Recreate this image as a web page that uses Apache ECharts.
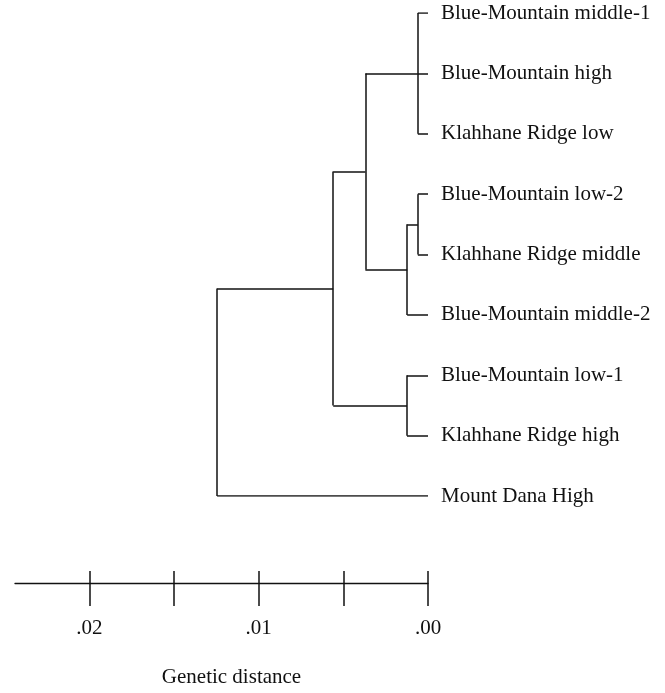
<!DOCTYPE html>
<html>
<head>
<meta charset="utf-8">
<script src="https://cdn.jsdelivr.net/npm/echarts@6/dist/echarts.min.js"></script>
<style>
html,body{margin:0;padding:0;background:#fff;}
#chart{width:665px;height:693px;}
</style>
</head>
<body>
<div id="chart"></div>
<script>
// Leaves, top to bottom
var leaves = [
  'Blue-Mountain middle-1',
  'Blue-Mountain high',
  'Klahhane Ridge low',
  'Blue-Mountain low-2',
  'Klahhane Ridge middle',
  'Blue-Mountain middle-2',
  'Blue-Mountain low-1',
  'Klahhane Ridge high',
  'Mount Dana High'
];
// Internal nodes (ids continue after the leaves: 9, 10, ...)
var mergeChildren = [
  [0, 1, 2],   // 9
  [3, 4],      // 10
  [10, 5],     // 11
  [9, 11],     // 12
  [6, 7],      // 13
  [12, 13],    // 14
  [14, 8]      // 15 root
];
// Genetic distance at which each merge happens
var mergeDistance = [0.0006, 0.0006, 0.00123, 0.0037, 0.00124, 0.0056, 0.01246];
// Scale bar
var scaleTicks = [0, 0.005, 0.01, 0.015, 0.02];
var scaleLabels = [0, 0.01, 0.02];
var axisName = 'Genetic distance';

// Build node positions (distance, row)
var nodeDist = [], nodeRow = [];
leaves.forEach(function (n, i) { nodeDist.push(0); nodeRow.push(i); });
mergeChildren.forEach(function (ch, k) {
  var id = leaves.length + k;
  nodeDist[id] = mergeDistance[k];
  var rows = ch.map(function (c) { return nodeRow[c]; });
  var s = 0; rows.forEach(function (r) { s += r; });
  nodeRow[id] = s / rows.length;
});

var segs = [];
mergeChildren.forEach(function (ch, k) {
  var id = leaves.length + k;
  var d = nodeDist[id];
  var rows = ch.map(function (c) { return nodeRow[c]; });
  var rmin = Math.min.apply(null, rows), rmax = Math.max.apply(null, rows);
  segs.push({ coords: [[d, rmin], [d, rmax]] });
  ch.forEach(function (c) {
    segs.push({ coords: [[nodeDist[c], nodeRow[c]], [d, nodeRow[c]]] });
  });
});

var FONT = 'Liberation Serif';
var X_MAX = 0.0244;

var chart = echarts.init(document.getElementById('chart'), null, { renderer: 'canvas' });
chart.setOption({
  animation: false,
  backgroundColor: '#fff',
  grid: { left: 15, right: 237, top: 13, bottom: 195, containLabel: false },
  xAxis: [
    {
      type: 'value', min: 0, max: X_MAX, inverse: true,
      position: 'bottom', offset: 87,
      axisLine: { show: true, onZero: false, lineStyle: { color: '#111', width: 1.3 } },
      axisTick: { show: true, length: 23, inside: false, customValues: scaleTicks, lineStyle: { color: '#111', width: 1.5 } },
      axisLabel: {
        show: true, customValues: scaleLabels, margin: 35,
        fontFamily: FONT, fontSize: 21, color: '#111',
        formatter: function (v) { return '.' + v.toFixed(2).split('.')[1]; }
      },
      splitLine: { show: false },
      name: axisName, nameLocation: 'middle', nameGap: 84,
      nameTextStyle: { fontFamily: FONT, fontSize: 21, color: '#111', padding: [0, 0, 0, 20] }
    },
    {
      type: 'value', min: 0, max: X_MAX, inverse: true,
      position: 'bottom', offset: 87,
      axisLine: { show: false, onZero: false },
      axisTick: { show: true, length: 12, inside: true, customValues: scaleTicks, lineStyle: { color: '#111', width: 1.5 } },
      axisLabel: { show: false },
      splitLine: { show: false }
    }
  ],
  yAxis: {
    type: 'value', min: 0, max: leaves.length - 1, interval: 1, inverse: true,
    position: 'right',
    axisLine: { show: false }, axisTick: { show: false }, splitLine: { show: false },
    axisLabel: {
      margin: 13, fontFamily: FONT, fontSize: 21, color: '#111',
      formatter: function (v) { return leaves[Math.round(v)] || ''; }
    }
  },
  series: [{
    type: 'lines',
    coordinateSystem: 'cartesian2d',
    xAxisIndex: 0, yAxisIndex: 0,
    polyline: false,
    silent: true,
    lineStyle: { color: '#111', width: 1.5, opacity: 1, curveness: 0 },
    data: segs
  }]
});
</script>
</body>
</html>
